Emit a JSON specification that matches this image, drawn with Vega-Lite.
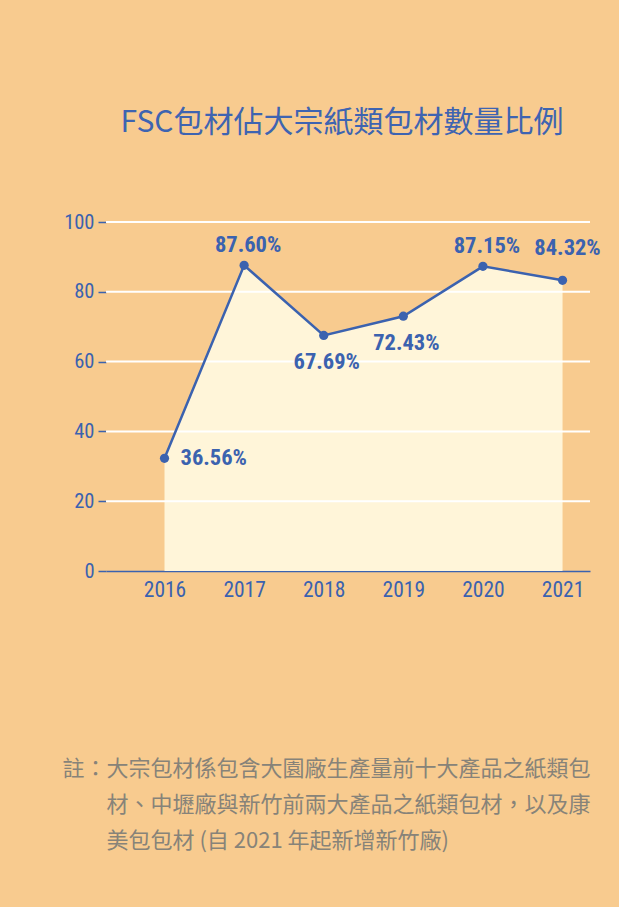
{
  "$schema": "https://vega.github.io/schema/vega-lite/v6.json",
  "autosize": "none",
  "width": 484,
  "height": 349,
  "padding": {"top": 222, "left": 106, "right": 29, "bottom": 336},
  "background": "#F8CB8F",
  "config": {"view": {"stroke": null}},
  "title": {
    "text": "FSC包材佔大宗紙類包材數量比例",
    "font": "Noto Sans CJK TC",
    "fontSize": 30,
    "fontWeight": "normal",
    "color": "#3E64B1",
    "anchor": "middle",
    "offset": 74,
    "dx": -6
  },
  "data": {
    "values": [
      {"year": 2016, "value": 32.3, "label": "36.56%"},
      {"year": 2017, "value": 87.6, "label": "87.60%"},
      {"year": 2018, "value": 67.5, "label": "67.69%"},
      {"year": 2019, "value": 73.0, "label": "72.43%"},
      {"year": 2020, "value": 87.3, "label": "87.15%"},
      {"year": 2021, "value": 83.3, "label": "84.32%"}
    ]
  },
  "encoding": {
    "x": {
      "field": "year",
      "type": "quantitative",
      "scale": {"domain": [2015.265, 2021.345], "nice": false, "zero": false},
      "axis": {
        "values": [2016, 2017, 2018, 2019, 2020, 2021],
        "format": "d",
        "grid": false,
        "ticks": false,
        "domain": true,
        "domainColor": "#3B62AF",
        "domainWidth": 1.5,
        "labelFont": "Roboto Condensed, DejaVu Sans Condensed, Roboto",
        "labelFontSize": 21.5,
        "labelColor": "#3B62AF",
        "labelPadding": 8,
        "labelFlush": false,
        "title": "註：大宗包材係包含大園廠生產量前十大產品之紙類包",
        "titleFont": "Noto Sans CJK TC",
        "titleFontSize": 22,
        "titleFontWeight": "normal",
        "titleColor": "#878379",
        "titleAlign": "left",
        "titleBaseline": "alphabetic",
        "titleX": -44,
        "titleY": 204
      }
    },
    "y": {
      "field": "value",
      "type": "quantitative",
      "scale": {"domain": [0, 100], "nice": false},
      "axis": {
        "values": [0, 20, 40, 60, 80, 100],
        "grid": false,
        "domain": false,
        "ticks": true,
        "tickSize": 8,
        "tickColor": "#3B62AF",
        "tickWidth": 1.5,
        "labelFont": "Roboto Condensed, DejaVu Sans Condensed, Roboto",
        "labelFontSize": 20.5,
        "labelColor": "#3B62AF",
        "labelPadding": 4,
        "title": [
          "材、中壢廠與新竹前兩大產品之紙類包材，以及康",
          "美包包材 (自 2021 年起新增新竹廠)"
        ],
        "titleFont": "Noto Sans CJK TC",
        "titleFontSize": 22,
        "titleFontWeight": "normal",
        "titleColor": "#878379",
        "titleAngle": 0,
        "titleAlign": "left",
        "titleBaseline": "alphabetic",
        "titleLineHeight": 36,
        "titleX": 0,
        "titleY": 589
      }
    }
  },
  "layer": [
    {"mark": {"type": "area", "color": "#FFF5D9", "opacity": 1}},
    {
      "data": {"values": [{"g": 20}, {"g": 40}, {"g": 60}, {"g": 80}, {"g": 100}]},
      "mark": {"type": "rule", "color": "#FFFFFF", "strokeWidth": 2},
      "encoding": {"x": null, "y": {"field": "g", "type": "quantitative"}}
    },
    {"mark": {"type": "line", "color": "#3B62AF", "strokeWidth": 2.5}},
    {"mark": {"type": "point", "filled": true, "color": "#3B62AF", "size": 85, "opacity": 1}},
    {
      "transform": [{"filter": {"field": "year", "oneOf": [2016]}}],
      "mark": {"type": "text", "align": "left", "baseline": "middle", "dx": 16, "dy": 0, "font": "Roboto Condensed, DejaVu Sans Condensed, Roboto", "fontWeight": "bold", "fontSize": 22.5, "color": "#3B62AF"},
      "encoding": {"text": {"field": "label"}}
    },
    {
      "transform": [{"filter": {"field": "year", "oneOf": [2017, 2020]}}],
      "mark": {"type": "text", "align": "center", "baseline": "middle", "dx": 4, "dy": -20, "font": "Roboto Condensed, DejaVu Sans Condensed, Roboto", "fontWeight": "bold", "fontSize": 22.5, "color": "#3B62AF"},
      "encoding": {"text": {"field": "label"}}
    },
    {
      "transform": [{"filter": {"field": "year", "oneOf": [2021]}}],
      "mark": {"type": "text", "align": "center", "baseline": "middle", "dx": 5, "dy": -32, "font": "Roboto Condensed, DejaVu Sans Condensed, Roboto", "fontWeight": "bold", "fontSize": 22.5, "color": "#3B62AF"},
      "encoding": {"text": {"field": "label"}}
    },
    {
      "transform": [{"filter": {"field": "year", "oneOf": [2018, 2019]}}],
      "mark": {"type": "text", "align": "center", "baseline": "middle", "dx": 3, "dy": 27, "font": "Roboto Condensed, DejaVu Sans Condensed, Roboto", "fontWeight": "bold", "fontSize": 22.5, "color": "#3B62AF"},
      "encoding": {"text": {"field": "label"}}
    }
  ]
}
